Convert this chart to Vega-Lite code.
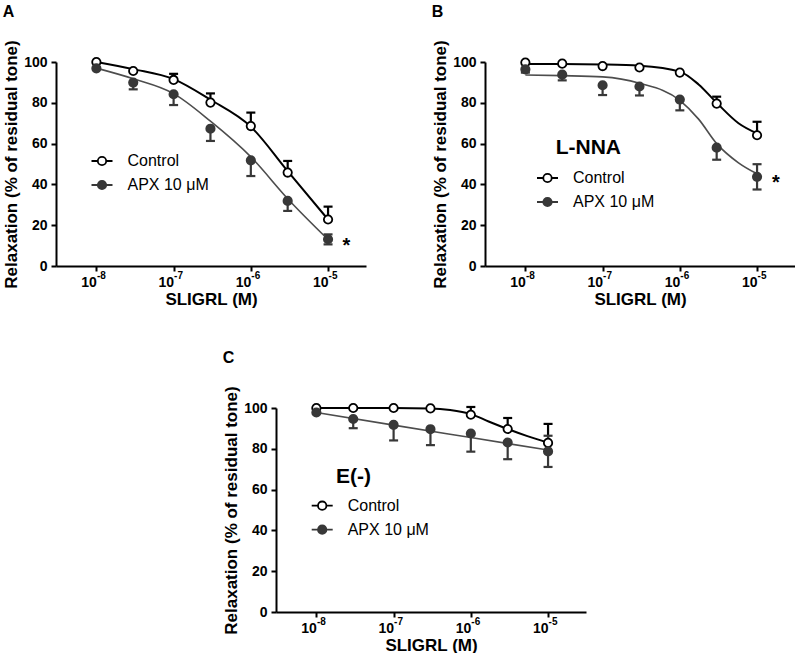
{
"$schema": "https://vega.github.io/schema/vega-lite/v6.json",
"background": "white",
"padding": {"left": 2, "top": 3, "right": 0, "bottom": 0},
"config": {
  "view": {"stroke": null},
  "font": "Liberation Sans",
  "axis": {"grid": false, "domainColor": "#000", "domainWidth": 2, "tickColor": "#000", "tickWidth": 2, "tickSize": 5, "labelFont": "Liberation Sans", "labelFontSize": 14, "labelFontWeight": "bold", "labelColor": "#000", "titleFont": "Liberation Sans", "titleFontSize": 17, "titleFontWeight": "bold", "titleColor": "#000"},
  "legend": {"orient": "none", "padding": 0, "labelFont": "Liberation Sans", "labelFontSize": 16, "labelColor": "#000", "symbolType": "M-1,0L-0.4,0M0.4,0L1,0M-0.4,0A0.4,0.4,0,1,1,0.4,0A0.4,0.4,0,1,1,-0.4,0Z", "symbolSize": 441, "symbolStrokeWidth": 1.8, "labelOffset": 14, "rowPadding": 4},
  "title": {"font": "Liberation Sans", "fontSize": 16, "fontWeight": "bold", "anchor": "start", "frame": "bounds", "offset": 20, "color": "#000"}
},
"datasets": {
  "pts": [
    {"panel":"A","group":"Control","conc":1e-8,"mean":100},
    {"panel":"A","group":"Control","conc":3e-8,"mean":95.6},
    {"panel":"A","group":"Control","conc":1e-7,"mean":91.2},
    {"panel":"A","group":"Control","conc":3e-7,"mean":80.1},
    {"panel":"A","group":"Control","conc":1e-6,"mean":68.6},
    {"panel":"A","group":"Control","conc":3e-6,"mean":45.8},
    {"panel":"A","group":"Control","conc":1e-5,"mean":22.8},
    {"panel":"A","group":"APX 10 μM","conc":1e-8,"mean":96.9},
    {"panel":"A","group":"APX 10 μM","conc":3e-8,"mean":89.9},
    {"panel":"A","group":"APX 10 μM","conc":1e-7,"mean":84.2},
    {"panel":"A","group":"APX 10 μM","conc":3e-7,"mean":67.3},
    {"panel":"A","group":"APX 10 μM","conc":1e-6,"mean":51.8},
    {"panel":"A","group":"APX 10 μM","conc":3e-6,"mean":31.9},
    {"panel":"A","group":"APX 10 μM","conc":1e-5,"mean":13.1},
    {"panel":"B","group":"Control","conc":1e-8,"mean":99.7},
    {"panel":"B","group":"Control","conc":3e-8,"mean":99.2},
    {"panel":"B","group":"Control","conc":1e-7,"mean":98.0},
    {"panel":"B","group":"Control","conc":3e-7,"mean":97.3},
    {"panel":"B","group":"Control","conc":1e-6,"mean":94.8},
    {"panel":"B","group":"Control","conc":3e-6,"mean":79.6},
    {"panel":"B","group":"Control","conc":1e-5,"mean":64.1},
    {"panel":"B","group":"APX 10 μM","conc":1e-8,"mean":96.4},
    {"panel":"B","group":"APX 10 μM","conc":3e-8,"mean":93.8},
    {"panel":"B","group":"APX 10 μM","conc":1e-7,"mean":88.6},
    {"panel":"B","group":"APX 10 μM","conc":3e-7,"mean":88.0},
    {"panel":"B","group":"APX 10 μM","conc":1e-6,"mean":81.6},
    {"panel":"B","group":"APX 10 μM","conc":3e-6,"mean":58.0},
    {"panel":"B","group":"APX 10 μM","conc":1e-5,"mean":43.7},
    {"panel":"C","group":"Control","conc":1e-8,"mean":100},
    {"panel":"C","group":"Control","conc":3e-8,"mean":100},
    {"panel":"C","group":"Control","conc":1e-7,"mean":100},
    {"panel":"C","group":"Control","conc":3e-7,"mean":99.8},
    {"panel":"C","group":"Control","conc":1e-6,"mean":96.7},
    {"panel":"C","group":"Control","conc":3e-6,"mean":89.7},
    {"panel":"C","group":"Control","conc":1e-5,"mean":82.9},
    {"panel":"C","group":"APX 10 μM","conc":1e-8,"mean":97.8},
    {"panel":"C","group":"APX 10 μM","conc":3e-8,"mean":94.6},
    {"panel":"C","group":"APX 10 μM","conc":1e-7,"mean":91.7},
    {"panel":"C","group":"APX 10 μM","conc":3e-7,"mean":89.6},
    {"panel":"C","group":"APX 10 μM","conc":1e-6,"mean":87.5},
    {"panel":"C","group":"APX 10 μM","conc":3e-6,"mean":83.1},
    {"panel":"C","group":"APX 10 μM","conc":1e-5,"mean":78.7}
  ],
  "err": [
    {"panel":"A","group":"Control","conc":1e-7,"mean":91.2,"end":94.2},
    {"panel":"A","group":"Control","conc":3e-7,"mean":80.1,"end":84.6},
    {"panel":"A","group":"Control","conc":1e-6,"mean":68.6,"end":75.2},
    {"panel":"A","group":"Control","conc":3e-6,"mean":45.8,"end":51.5},
    {"panel":"A","group":"Control","conc":1e-5,"mean":22.8,"end":29.1},
    {"panel":"A","group":"APX 10 μM","conc":3e-8,"mean":89.9,"end":86.6},
    {"panel":"A","group":"APX 10 μM","conc":1e-7,"mean":84.2,"end":78.9},
    {"panel":"A","group":"APX 10 μM","conc":3e-7,"mean":67.3,"end":61.3},
    {"panel":"A","group":"APX 10 μM","conc":1e-6,"mean":51.8,"end":44.1},
    {"panel":"A","group":"APX 10 μM","conc":3e-6,"mean":31.9,"end":27.0},
    {"panel":"A","group":"APX 10 μM","conc":1e-5,"mean":13.1,"end":10.6},
    {"panel":"A","group":"APX 10 μM","conc":1e-5,"mean":13.1,"end":15.5},
    {"panel":"B","group":"Control","conc":3e-6,"mean":79.6,"end":83.0},
    {"panel":"B","group":"Control","conc":1e-5,"mean":64.1,"end":70.7},
    {"panel":"B","group":"APX 10 μM","conc":1e-8,"mean":96.4,"end":94.8},
    {"panel":"B","group":"APX 10 μM","conc":3e-8,"mean":93.8,"end":91.0},
    {"panel":"B","group":"APX 10 μM","conc":1e-7,"mean":88.6,"end":83.8},
    {"panel":"B","group":"APX 10 μM","conc":3e-7,"mean":88.0,"end":83.6},
    {"panel":"B","group":"APX 10 μM","conc":1e-6,"mean":81.6,"end":76.3},
    {"panel":"B","group":"APX 10 μM","conc":3e-6,"mean":58.0,"end":52.1},
    {"panel":"B","group":"APX 10 μM","conc":1e-5,"mean":43.7,"end":37.5},
    {"panel":"B","group":"APX 10 μM","conc":1e-5,"mean":43.7,"end":49.9},
    {"panel":"C","group":"Control","conc":1e-6,"mean":96.7,"end":100.5},
    {"panel":"C","group":"Control","conc":3e-6,"mean":89.7,"end":95.1},
    {"panel":"C","group":"Control","conc":1e-5,"mean":82.9,"end":92.2},
    {"panel":"C","group":"APX 10 μM","conc":3e-8,"mean":94.6,"end":90.1},
    {"panel":"C","group":"APX 10 μM","conc":1e-7,"mean":91.7,"end":84.1},
    {"panel":"C","group":"APX 10 μM","conc":3e-7,"mean":89.6,"end":81.8},
    {"panel":"C","group":"APX 10 μM","conc":1e-6,"mean":87.5,"end":78.6},
    {"panel":"C","group":"APX 10 μM","conc":3e-6,"mean":83.1,"end":74.9},
    {"panel":"C","group":"APX 10 μM","conc":1e-5,"mean":78.7,"end":71.1},
    {"panel":"C","group":"APX 10 μM","conc":1e-5,"mean":78.7,"end":86.4}
  ],
  "fit": [
    {"panel":"A","group":"Control","conc":1e-8,"fit":100},
    {"panel":"A","group":"Control","conc":3e-8,"fit":96.5},
    {"panel":"A","group":"Control","conc":1e-7,"fit":91.6},
    {"panel":"A","group":"Control","conc":3e-7,"fit":81.5},
    {"panel":"A","group":"Control","conc":1e-6,"fit":68.3},
    {"panel":"A","group":"Control","conc":3e-6,"fit":46.5},
    {"panel":"A","group":"Control","conc":1e-5,"fit":22.8},
    {"panel":"A","group":"APX 10 μM","conc":1e-8,"fit":97.0},
    {"panel":"A","group":"APX 10 μM","conc":3e-8,"fit":91.8},
    {"panel":"A","group":"APX 10 μM","conc":1e-7,"fit":84.5},
    {"panel":"A","group":"APX 10 μM","conc":3e-7,"fit":71.0},
    {"panel":"A","group":"APX 10 μM","conc":1e-6,"fit":53.5},
    {"panel":"A","group":"APX 10 μM","conc":3e-6,"fit":33.0},
    {"panel":"A","group":"APX 10 μM","conc":1e-5,"fit":13.0},
    {"panel":"B","group":"Control","conc":1e-8,"fit":99.0},
    {"panel":"B","group":"Control","conc":3e-8,"fit":99.0},
    {"panel":"B","group":"Control","conc":1e-7,"fit":98.8},
    {"panel":"B","group":"Control","conc":3e-7,"fit":98.2},
    {"panel":"B","group":"Control","conc":1e-6,"fit":95.3},
    {"panel":"B","group":"Control","conc":1.75e-6,"fit":89.0},
    {"panel":"B","group":"Control","conc":3e-6,"fit":80.0},
    {"panel":"B","group":"Control","conc":5.75e-6,"fit":70.0},
    {"panel":"B","group":"Control","conc":1e-5,"fit":65.0},
    {"panel":"B","group":"APX 10 μM","conc":1e-8,"fit":93.6},
    {"panel":"B","group":"APX 10 μM","conc":3e-8,"fit":93.3},
    {"panel":"B","group":"APX 10 μM","conc":1e-7,"fit":92.7},
    {"panel":"B","group":"APX 10 μM","conc":3e-7,"fit":89.6},
    {"panel":"B","group":"APX 10 μM","conc":1e-6,"fit":81.2},
    {"panel":"B","group":"APX 10 μM","conc":1.75e-6,"fit":72.0},
    {"panel":"B","group":"APX 10 μM","conc":3e-6,"fit":60.0},
    {"panel":"B","group":"APX 10 μM","conc":5.75e-6,"fit":50.6},
    {"panel":"B","group":"APX 10 μM","conc":1e-5,"fit":45.2},
    {"panel":"C","group":"Control","conc":1e-8,"fit":100},
    {"panel":"C","group":"Control","conc":3e-8,"fit":100},
    {"panel":"C","group":"Control","conc":1e-7,"fit":100},
    {"panel":"C","group":"Control","conc":3e-7,"fit":99.8},
    {"panel":"C","group":"Control","conc":5.4e-7,"fit":99.0},
    {"panel":"C","group":"Control","conc":1e-6,"fit":97.0},
    {"panel":"C","group":"Control","conc":1.7e-6,"fit":93.4},
    {"panel":"C","group":"Control","conc":3e-6,"fit":89.7},
    {"panel":"C","group":"Control","conc":5.4e-6,"fit":86.2},
    {"panel":"C","group":"Control","conc":1e-5,"fit":83.0},
    {"panel":"C","group":"APX 10 μM","conc":1e-8,"fit":97.8},
    {"panel":"C","group":"APX 10 μM","conc":1e-7,"fit":91.6},
    {"panel":"C","group":"APX 10 μM","conc":1e-6,"fit":85.5},
    {"panel":"C","group":"APX 10 μM","conc":1e-5,"fit":79.4}
  ]
},
"spacing": 42,
"resolve": {"scale": {"fill": "independent", "stroke": "independent"}},
"vconcat": [
{
"hconcat": [
{
  "title": "A",
  "width": 310, "height": 204,
  "resolve": {"axis": {"x": "independent"}},
  "layer": [
    {"data": {"name": "fit"}, "transform": [{"filter": "datum.panel=='A'"}],
     "mark": {"type": "line", "interpolate": "monotone"},
     "encoding": {
       "x": {"field": "conc", "type": "quantitative", "scale": {"type": "log", "domain": [3e-9, 3.1e-5], "nice": false}, "axis": {"orient": "bottom", "values": [1e-8, 1e-7, 1e-6, 1e-5], "labelExpr": "'10'", "labelAlign": "right", "labelDx": 1, "title": "SLIGRL (M)", "labelPadding": 4, "titlePadding": 2}},
       "y": {"field": "fit", "type": "quantitative", "scale": {"domain": [0, 100], "nice": false}, "axis": {"values": [0, 20, 40, 60, 80, 100], "title": "Relaxation (% of residual tone)", "labelPadding": 4, "titlePadding": 3}},
       "detail": {"field": "group"},
       "color": {"condition": {"test": "datum.group=='Control'", "value": "#000000"}, "value": "#4d4d4d"},
       "strokeWidth": {"condition": {"test": "datum.group=='Control'", "value": 2}, "value": 1.6}
     }},
    {"data": {"name": "err"}, "transform": [{"filter": "datum.panel=='A'"}],
     "mark": {"type": "rule", "strokeWidth": 2.2},
     "encoding": {
       "x": {"field": "conc", "type": "quantitative", "axis": null},
       "y": {"field": "mean", "type": "quantitative"},
       "y2": {"field": "end"},
       "color": {"condition": {"test": "datum.group=='Control'", "value": "#000000"}, "value": "#383838"}
     }},
    {"data": {"name": "err"}, "transform": [{"filter": "datum.panel=='A'"}],
     "mark": {"type": "tick", "orient": "horizontal", "size": 9, "thickness": 2.2, "opacity": 1},
     "encoding": {
       "x": {"field": "conc", "type": "quantitative", "axis": null},
       "y": {"field": "end", "type": "quantitative"},
       "color": {"condition": {"test": "datum.group=='Control'", "value": "#000000"}, "value": "#383838"}
     }},
    {"data": {"name": "pts"}, "transform": [{"filter": "datum.panel=='A'"}],
     "mark": {"type": "point", "shape": "circle", "size": 70, "strokeWidth": 1.8, "opacity": 1},
     "encoding": {
       "x": {"field": "conc", "type": "quantitative", "axis": {"orient": "bottom", "values": [1e-8, 1e-7, 1e-6, 1e-5], "domain": false, "ticks": false, "labelExpr": "datum.value < 5e-8 ? '-8' : datum.value < 5e-7 ? '-7' : datum.value < 5e-6 ? '-6' : '-5'", "labelAlign": "left", "labelDx": 2, "labelDy": -4, "labelFontSize": 10, "labelPadding": 4, "title": null}},
       "y": {"field": "mean", "type": "quantitative"},
       "fill": {"field": "group", "type": "nominal", "scale": {"domain": ["Control", "APX 10 μM"], "range": ["#ffffff", "#383838"]}, "legend": {"title": null, "orient": "none", "legendX": 34.5, "legendY": 87.5}},
       "stroke": {"field": "group", "type": "nominal", "scale": {"domain": ["Control", "APX 10 μM"], "range": ["#000000", "#383838"]}, "legend": {"title": null, "orient": "none", "legendX": 34.5, "legendY": 87.5}}
     }},
    {"data": {"values": [{}]},
     "mark": {"type": "text", "text": "*", "fontSize": 20, "fontWeight": "bold", "align": "center", "baseline": "middle", "color": "#000"},
     "encoding": {"x": {"datum": 1.73e-5, "type": "quantitative", "axis": null}, "y": {"datum": 9.7, "type": "quantitative"}}}
  ]
},
{
  "title": "B",
  "width": 310, "height": 204,
  "resolve": {"axis": {"x": "independent"}},
  "layer": [
    {"data": {"name": "fit"}, "transform": [{"filter": "datum.panel=='B'"}],
     "mark": {"type": "line", "interpolate": "monotone"},
     "encoding": {
       "x": {"field": "conc", "type": "quantitative", "scale": {"type": "log", "domain": [3e-9, 3.1e-5], "nice": false}, "axis": {"orient": "bottom", "values": [1e-8, 1e-7, 1e-6, 1e-5], "labelExpr": "'10'", "labelAlign": "right", "labelDx": 1, "title": "SLIGRL (M)", "labelPadding": 4, "titlePadding": 2}},
       "y": {"field": "fit", "type": "quantitative", "scale": {"domain": [0, 100], "nice": false}, "axis": {"values": [0, 20, 40, 60, 80, 100], "title": "Relaxation (% of residual tone)", "labelPadding": 4, "titlePadding": 3}},
       "detail": {"field": "group"},
       "color": {"condition": {"test": "datum.group=='Control'", "value": "#000000"}, "value": "#4d4d4d"},
       "strokeWidth": {"condition": {"test": "datum.group=='Control'", "value": 2}, "value": 1.6}
     }},
    {"data": {"name": "err"}, "transform": [{"filter": "datum.panel=='B'"}],
     "mark": {"type": "rule", "strokeWidth": 2.2},
     "encoding": {
       "x": {"field": "conc", "type": "quantitative", "axis": null},
       "y": {"field": "mean", "type": "quantitative"},
       "y2": {"field": "end"},
       "color": {"condition": {"test": "datum.group=='Control'", "value": "#000000"}, "value": "#383838"}
     }},
    {"data": {"name": "err"}, "transform": [{"filter": "datum.panel=='B'"}],
     "mark": {"type": "tick", "orient": "horizontal", "size": 9, "thickness": 2.2, "opacity": 1},
     "encoding": {
       "x": {"field": "conc", "type": "quantitative", "axis": null},
       "y": {"field": "end", "type": "quantitative"},
       "color": {"condition": {"test": "datum.group=='Control'", "value": "#000000"}, "value": "#383838"}
     }},
    {"data": {"name": "pts"}, "transform": [{"filter": "datum.panel=='B'"}],
     "mark": {"type": "point", "shape": "circle", "size": 70, "strokeWidth": 1.8, "opacity": 1},
     "encoding": {
       "x": {"field": "conc", "type": "quantitative", "axis": {"orient": "bottom", "values": [1e-8, 1e-7, 1e-6, 1e-5], "domain": false, "ticks": false, "labelExpr": "datum.value < 5e-8 ? '-8' : datum.value < 5e-7 ? '-7' : datum.value < 5e-6 ? '-6' : '-5'", "labelAlign": "left", "labelDx": 2, "labelDy": -4, "labelFontSize": 10, "labelPadding": 4, "title": null}},
       "y": {"field": "mean", "type": "quantitative"},
       "fill": {"field": "group", "type": "nominal", "scale": {"domain": ["Control", "APX 10 μM"], "range": ["#ffffff", "#383838"]}, "legend": {"title": null, "orient": "none", "legendX": 51, "legendY": 104.5}},
       "stroke": {"field": "group", "type": "nominal", "scale": {"domain": ["Control", "APX 10 μM"], "range": ["#000000", "#383838"]}, "legend": {"title": null, "orient": "none", "legendX": 51, "legendY": 104.5}}
     }},
    {"data": {"values": [{}]},
     "mark": {"type": "text", "text": "*", "fontSize": 20, "fontWeight": "bold", "align": "center", "baseline": "middle", "color": "#000"},
     "encoding": {"x": {"datum": 1.76e-5, "type": "quantitative", "axis": null}, "y": {"datum": 40.9, "type": "quantitative"}}},
    {"data": {"values": [{}]},
     "mark": {"type": "text", "text": "L-NNA", "fontSize": 21, "fontWeight": "bold", "align": "left", "baseline": "middle", "color": "#000"},
     "encoding": {"x": {"datum": 2.47e-8, "type": "quantitative", "axis": null}, "y": {"datum": 57.8, "type": "quantitative"}}}
  ]
}
],
"spacing": 65,
"resolve": {"scale": {"fill": "independent", "stroke": "independent"}}
},
{
"hconcat": [
{
  "width": 166, "height": 10,
  "data": {"values": []},
  "mark": {"type": "point", "opacity": 0}
},
{
  "title": "C",
  "width": 310, "height": 204,
  "resolve": {"axis": {"x": "independent"}},
  "layer": [
    {"data": {"name": "fit"}, "transform": [{"filter": "datum.panel=='C'"}],
     "mark": {"type": "line", "interpolate": "monotone"},
     "encoding": {
       "x": {"field": "conc", "type": "quantitative", "scale": {"type": "log", "domain": [3e-9, 3.1e-5], "nice": false}, "axis": {"orient": "bottom", "values": [1e-8, 1e-7, 1e-6, 1e-5], "labelExpr": "'10'", "labelAlign": "right", "labelDx": 1, "title": "SLIGRL (M)", "labelPadding": 4, "titlePadding": 2}},
       "y": {"field": "fit", "type": "quantitative", "scale": {"domain": [0, 100], "nice": false}, "axis": {"values": [0, 20, 40, 60, 80, 100], "title": "Relaxation (% of residual tone)", "labelPadding": 4, "titlePadding": 3}},
       "detail": {"field": "group"},
       "color": {"condition": {"test": "datum.group=='Control'", "value": "#000000"}, "value": "#4d4d4d"},
       "strokeWidth": {"condition": {"test": "datum.group=='Control'", "value": 2}, "value": 1.6}
     }},
    {"data": {"name": "err"}, "transform": [{"filter": "datum.panel=='C'"}],
     "mark": {"type": "rule", "strokeWidth": 2.2},
     "encoding": {
       "x": {"field": "conc", "type": "quantitative", "axis": null},
       "y": {"field": "mean", "type": "quantitative"},
       "y2": {"field": "end"},
       "color": {"condition": {"test": "datum.group=='Control'", "value": "#000000"}, "value": "#383838"}
     }},
    {"data": {"name": "err"}, "transform": [{"filter": "datum.panel=='C'"}],
     "mark": {"type": "tick", "orient": "horizontal", "size": 9, "thickness": 2.2, "opacity": 1},
     "encoding": {
       "x": {"field": "conc", "type": "quantitative", "axis": null},
       "y": {"field": "end", "type": "quantitative"},
       "color": {"condition": {"test": "datum.group=='Control'", "value": "#000000"}, "value": "#383838"}
     }},
    {"data": {"name": "pts"}, "transform": [{"filter": "datum.panel=='C'"}],
     "mark": {"type": "point", "shape": "circle", "size": 70, "strokeWidth": 1.8, "opacity": 1},
     "encoding": {
       "x": {"field": "conc", "type": "quantitative", "axis": {"orient": "bottom", "values": [1e-8, 1e-7, 1e-6, 1e-5], "domain": false, "ticks": false, "labelExpr": "datum.value < 5e-8 ? '-8' : datum.value < 5e-7 ? '-7' : datum.value < 5e-6 ? '-6' : '-5'", "labelAlign": "left", "labelDx": 2, "labelDy": -4, "labelFontSize": 10, "labelPadding": 4, "title": null}},
       "y": {"field": "mean", "type": "quantitative"},
       "fill": {"field": "group", "type": "nominal", "scale": {"domain": ["Control", "APX 10 μM"], "range": ["#ffffff", "#383838"]}, "legend": {"title": null, "orient": "none", "legendX": 34.7, "legendY": 86.2}},
       "stroke": {"field": "group", "type": "nominal", "scale": {"domain": ["Control", "APX 10 μM"], "range": ["#000000", "#383838"]}, "legend": {"title": null, "orient": "none", "legendX": 34.7, "legendY": 86.2}}
     }},
    {"data": {"values": [{}]},
     "mark": {"type": "text", "text": "E(-)", "fontSize": 21, "fontWeight": "bold", "align": "left", "baseline": "middle", "color": "#000"},
     "encoding": {"x": {"datum": 1.8e-8, "type": "quantitative", "axis": null}, "y": {"datum": 66.4, "type": "quantitative"}}}
  ]
}
],
"spacing": 0,
"resolve": {"scale": {"fill": "independent", "stroke": "independent"}}
}
]
}
